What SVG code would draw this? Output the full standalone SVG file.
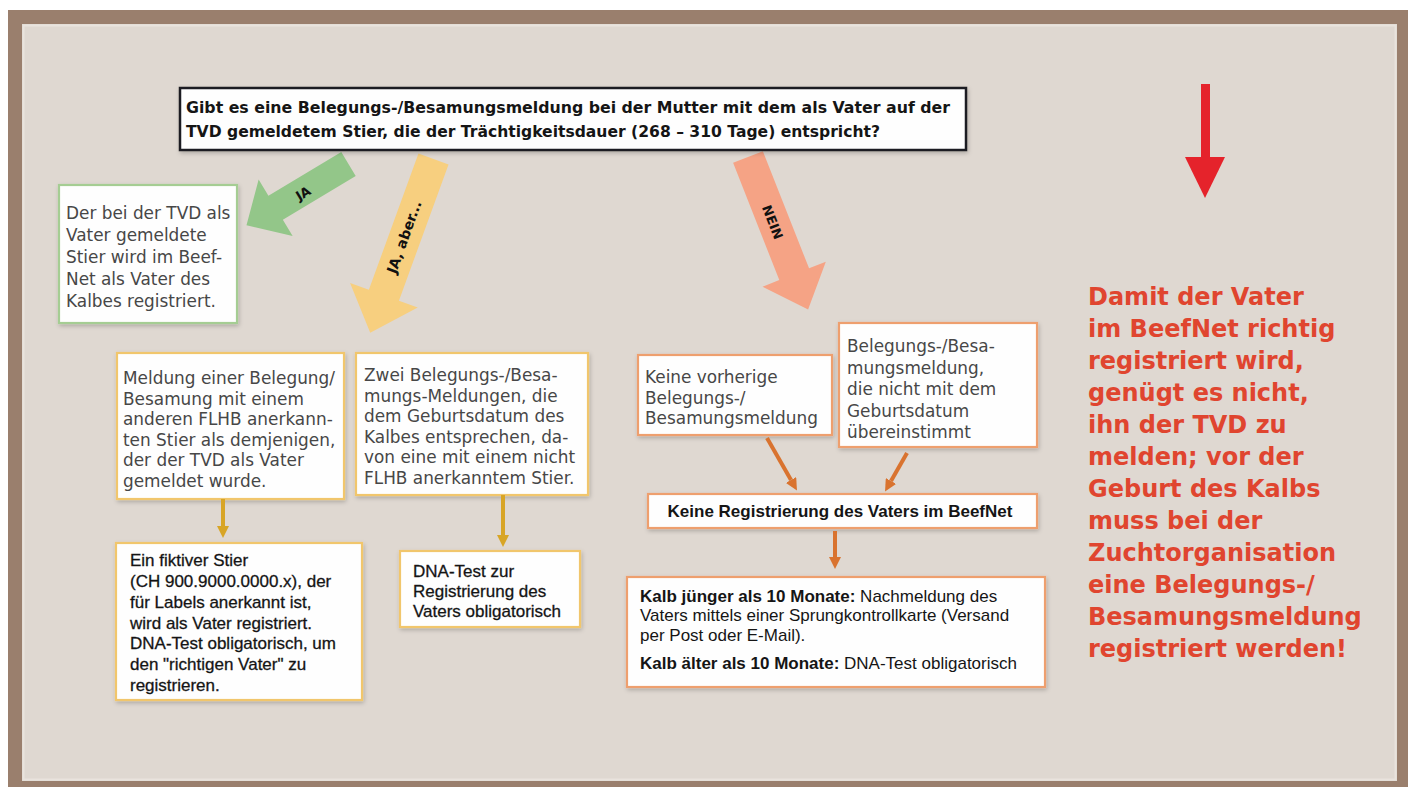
<svg xmlns="http://www.w3.org/2000/svg" width="1415" height="787" viewBox="0 0 1415 787">
<style>
.pop{font-family:"DejaVu Sans","Open Sans",sans-serif;font-size:16.9px;fill:#474747}
.ari{font-family:"Liberation Sans",Arial,sans-serif;font-size:17px;fill:#151515}
.arib{font-family:"Liberation Sans",Arial,sans-serif;font-size:17px;fill:#111;stroke:#222;stroke-width:0.3}
.b{font-weight:bold}
.q{font-family:"DejaVu Sans","Open Sans",sans-serif;font-weight:bold;font-size:15px;fill:#151515}
.red{font-family:"DejaVu Sans","Open Sans",sans-serif;font-weight:bold;font-size:24px;fill:#e0452f}
.lab{font-family:"DejaVu Sans","Open Sans",sans-serif;font-weight:bold;font-size:13px;fill:#111;text-anchor:middle}
.box{fill:#fefefe;stroke-width:2.2}
.gb{stroke:#a5cd93}
.yb{stroke:#f1c66c}
.ob{stroke:#ee9f6e}
.yc{stroke:#d8a526;stroke-width:4;fill:none;marker-end:url(#hy)}
.oc{stroke:#d9732f;stroke-width:4;fill:none;marker-end:url(#ho)}
</style>
<defs>
<filter id="sh" x="-10%" y="-10%" width="125%" height="130%">
<feDropShadow dx="1" dy="2" stdDeviation="2" flood-color="#000" flood-opacity="0.22"/>
</filter>
<marker id="hy" viewBox="0 0 10 10" refX="0" refY="5" markerWidth="3" markerHeight="3" orient="auto"><path d="M0,0 L10,5 L0,10 z" fill="#d8a526"/></marker>
<marker id="ho" viewBox="0 0 10 10" refX="0" refY="5" markerWidth="3" markerHeight="3" orient="auto"><path d="M0,0 L10,5 L0,10 z" fill="#d9732f"/></marker>
</defs>

<!-- frame -->
<rect x="0" y="0" width="1415" height="787" fill="#ffffff"/>
<rect x="8" y="10" width="1400" height="790" fill="#9a7f6d"/>
<rect x="22" y="24" width="1375" height="757" fill="#dfd8d1"/>
<rect x="23.5" y="25.5" width="1372" height="754" fill="none" stroke="#e9e3dd" stroke-width="2"/>

<!-- big arrows -->
<g id="arrow-ja">
<polygon points="0,-14 85,-14 85,-33 119,0 85,33 85,14 0,14" fill="#93c689" transform="translate(348.5,164) rotate(149)"/>
<text class="lab" transform="translate(303,193) rotate(-31)" y="5">JA</text>
</g>
<g id="arrow-ja-aber">
<polygon points="0,-16 145,-16 145,-36 185,0 145,36 145,16 0,16" fill="#f7cf7f" transform="translate(433.5,159) rotate(110)"/>
<text class="lab" transform="translate(404,237) rotate(-70)" y="5" style="font-size:14px">JA, aber...</text>
</g>
<g id="arrow-nein">
<polygon points="0,-16 126,-16 126,-34 164,0 126,34 126,16 0,16" fill="#f5a385" transform="translate(748,157) rotate(68.5)"/>
<text class="lab" transform="translate(773,222) rotate(68.5)" y="5">NEIN</text>
</g>

<!-- question -->
<g id="question">
<rect x="180" y="88" width="786" height="62" fill="#fefefe" stroke="#1c1c24" stroke-width="2.5" filter="url(#sh)"/>
<text class="q" x="186" y="113" textLength="764" lengthAdjust="spacingAndGlyphs">Gibt es eine Belegungs-/Besamungsmeldung bei der Mutter mit dem als Vater auf der</text>
<text class="q" x="186" y="137" textLength="694" lengthAdjust="spacingAndGlyphs">TVD gemeldetem Stier, die der Trächtigkeitsdauer (268 – 310 Tage) entspricht?</text>
</g>

<!-- JA -->
<g id="ja-box">
<rect class="box gb" x="59" y="185" width="178" height="138" filter="url(#sh)"/>
<text class="pop" x="66"><tspan x="66" y="219">Der bei der TVD als</tspan><tspan x="66" y="241">Vater gemeldete</tspan><tspan x="66" y="263">Stier wird im Beef-</tspan><tspan x="66" y="285">Net als Vater des</tspan><tspan x="66" y="307">Kalbes registriert.</tspan></text>
</g>

<!-- JA, aber -->
<g id="aber-box1">
<rect class="box yb" x="117" y="353" width="227" height="146" filter="url(#sh)"/>
<text class="pop"><tspan x="123" y="384">Meldung einer Belegung/</tspan><tspan x="123" y="404.5">Besamung mit einem</tspan><tspan x="123" y="425">anderen FLHB anerkann-</tspan><tspan x="123" y="445.5">ten Stier als demjenigen,</tspan><tspan x="123" y="466">der der TVD als Vater</tspan><tspan x="123" y="486.5">gemeldet wurde.</tspan></text>
</g>
<g id="aber-box2">
<rect class="box yb" x="356" y="353" width="232" height="142" filter="url(#sh)"/>
<text class="pop"><tspan x="364" y="381">Zwei Belegungs-/Besa-</tspan><tspan x="364" y="401.5">mungs-Meldungen, die</tspan><tspan x="364" y="422">dem Geburtsdatum des</tspan><tspan x="364" y="442.5">Kalbes entsprechen, da-</tspan><tspan x="364" y="463">von eine mit einem nicht</tspan><tspan x="364" y="483.5">FLHB anerkanntem Stier.</tspan></text>
</g>
<g id="aber-box3">
<rect class="box yb" x="116" y="543" width="246" height="157" filter="url(#sh)"/>
<text class="arib"><tspan x="130" y="566">Ein fiktiver Stier</tspan><tspan x="130" y="587">(CH 900.9000.0000.x), der</tspan><tspan x="130" y="608">für Labels anerkannt ist,</tspan><tspan x="130" y="629">wird als Vater registriert.</tspan><tspan x="130" y="649">DNA-Test obligatorisch, um</tspan><tspan x="130" y="670">den "richtigen Vater" zu</tspan><tspan x="130" y="691">registrieren.</tspan></text>
</g>
<g id="aber-box4">
<rect class="box yb" x="400" y="551" width="180" height="76" filter="url(#sh)"/>
<text class="arib"><tspan x="413" y="577">DNA-Test zur</tspan><tspan x="413" y="597">Registrierung des</tspan><tspan x="413" y="617">Vaters obligatorisch</tspan></text>
</g>

<!-- NEIN -->
<g id="nein-box1">
<rect class="box ob" x="638" y="355" width="194" height="80" filter="url(#sh)"/>
<text class="pop"><tspan x="645" y="383">Keine vorherige</tspan><tspan x="645" y="403.5">Belegungs-/</tspan><tspan x="645" y="424">Besamungsmeldung</tspan></text>
</g>
<g id="nein-box2">
<rect class="box ob" x="839" y="323" width="198" height="124" filter="url(#sh)"/>
<text class="pop"><tspan x="847" y="352">Belegungs-/Besa-</tspan><tspan x="847" y="373.5">mungsmeldung,</tspan><tspan x="847" y="395">die nicht mit dem</tspan><tspan x="847" y="416.5">Geburtsdatum</tspan><tspan x="847" y="438">übereinstimmt</tspan></text>
</g>
<g id="nein-result">
<rect class="box ob" x="648" y="494" width="389" height="34" filter="url(#sh)"/>
<text class="ari b" x="840" y="517" text-anchor="middle">Keine Registrierung des Vaters im BeefNet</text>
</g>
<g id="nein-detail">
<rect class="box ob" x="627" y="577" width="418" height="110" filter="url(#sh)"/>
<text class="ari"><tspan x="640" y="602"><tspan class="b">Kalb jünger als 10 Monate:</tspan> Nachmeldung des</tspan><tspan x="640" y="621">Vaters mittels einer Sprungkontrollkarte (Versand</tspan><tspan x="640" y="641">per Post oder E-Mail).</tspan><tspan x="640" y="669"><tspan class="b">Kalb älter als 10 Monate:</tspan> DNA-Test obligatorisch</tspan></text>
</g>

<!-- connectors -->
<g id="connectors">
<path class="yc" d="M223,499 L223,526"/>
<path class="yc" d="M503,495 L503,535"/>
<path class="oc" d="M767,438 L791,480"/>
<path class="oc" d="M907,453 L891,481"/>
<path class="oc" d="M835,531 L835,557"/>
</g>

<!-- red note -->
<g id="note">
<rect x="1201" y="84" width="9" height="76" fill="#e5232b"/>
<polygon points="1185,157 1225,157 1205,198" fill="#e5232b"/>
<text class="red"><tspan x="1088" y="305">Damit der Vater</tspan><tspan x="1088" y="337">im BeefNet richtig</tspan><tspan x="1088" y="369">registriert wird,</tspan><tspan x="1088" y="401">genügt es nicht,</tspan><tspan x="1088" y="433">ihn der TVD zu</tspan><tspan x="1088" y="465">melden; vor der</tspan><tspan x="1088" y="497">Geburt des Kalbs</tspan><tspan x="1088" y="529">muss bei der</tspan><tspan x="1088" y="561">Zuchtorganisation</tspan><tspan x="1088" y="593">eine Belegungs-/</tspan><tspan x="1088" y="625">Besamungsmeldung</tspan><tspan x="1088" y="657">registriert werden!</tspan></text>
</g>
</svg>
